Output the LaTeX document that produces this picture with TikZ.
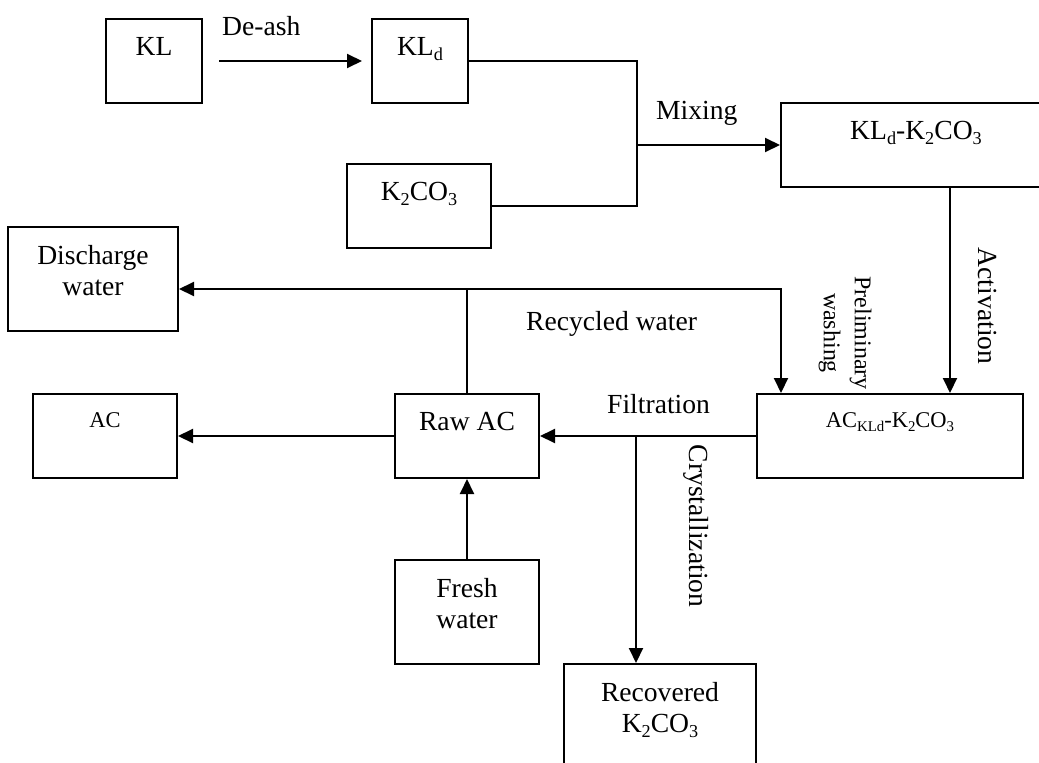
\documentclass[tikz,border=0pt]{standalone}
\usepackage{fontspec}
\setmainfont{Liberation Serif}
\usetikzlibrary{arrows.meta,positioning}

\newcommand{\sbs}[1]{\raisebox{-0.18em}{\scalebox{0.66}{#1}}}

\begin{document}
\begin{tikzpicture}[x=1pt, y=-1pt,
    box/.style={draw, line width=2pt, inner sep=0pt},
    lbl/.style={inner sep=0pt, align=center, font=\fontsize{27.6}{31}\selectfont},
    smalllbl/.style={lbl, font=\fontsize{22.5}{25}\selectfont},
    flow/.style={line width=2pt, -{Triangle[length=15pt,width=14pt]}},
    pipe/.style={line width=2pt}]

    % Page frame
    \useasboundingbox (0,0) rectangle (1039,763);
    \clip (0,0) rectangle (1039,763);

    % Boxes
    \node[box, minimum width=96pt, minimum height=84pt] (kl) at (154,61) {};
    \node[box, minimum width=96pt, minimum height=84pt] (kld) at (420,61) {};
    \node[box, minimum width=144pt, minimum height=84pt] (kco) at (419,206) {};
    \node[box, minimum width=270pt, minimum height=84pt] (mix) at (916,145) {};
    \node[box, minimum width=170pt, minimum height=104pt] (dis) at (93,279) {};
    \node[box, minimum width=144pt, minimum height=84pt] (ac) at (105,436) {};
    \node[box, minimum width=144pt, minimum height=84pt] (raw) at (467,436) {};
    \node[box, minimum width=266pt, minimum height=84pt] (act) at (890,436) {};
    \node[box, minimum width=144pt, minimum height=104pt] (fresh) at (467,612) {};
    \node[box, minimum width=192pt, minimum height=136pt] (rec) at (660,732) {};

    % Box texts
    \node[lbl, below=19pt of kl.north] (kl-t) {KL};
    \node[lbl, below=19pt of kld.north] (kld-t) {KL\sbs{d}};
    \node[lbl, below=19pt of kco.north] (kco-t) {K\sbs{2}CO\sbs{3}};
    \node[lbl, below=19pt of mix.north] (mix-t) {KL\sbs{d}-K\sbs{2}CO\sbs{3}};
    \node[lbl, below=19pt of dis.north] (dis-t) {Discharge\\water};
    \node[smalllbl, below=19pt of ac.north] (ac-t) {AC};
    \node[lbl, below=19pt of raw.north] (raw-t) {Raw AC};
    \node[smalllbl, below=19pt of act.north] (act-t) {AC\sbs{KLd}-K\sbs{2}CO\sbs{3}};
    \node[lbl, below=19pt of fresh.north] (fresh-t) {Fresh\\water};
    \node[lbl, below=19pt of rec.north] (rec-t) {Recovered\\K\sbs{2}CO\sbs{3}};

    % Junctions
    \coordinate (mixjn) at (637,145);
    \coordinate (washjn) at (467,289);
    \coordinate (washx) at (781,0);
    \coordinate (actx) at (950,0);
    \coordinate (crysx) at (636,0);

    % Connectors
    \draw[flow, shorten <=16pt, shorten >=9pt] (kl.east) -- (kld.west);
    \draw[pipe] (kld.east) -| (mixjn) |- (kco.east);
    \draw[flow] (mixjn) -- (mix.west);
    \draw[flow] (actx |- mix.south) -- (actx |- act.north);
    \draw[pipe, line width=1.4pt] (raw.north) -- (washjn);
    \draw[flow] (washjn) -- (washjn -| dis.east);
    \draw[flow] (washjn) -| (washx |- act.north);
    \draw[flow] (act.west) -- (raw.east);
    \draw[flow] (crysx |- act.west) -- (crysx |- rec.north);
    \draw[flow] (raw.west) -- (ac.east);
    \draw[flow] (fresh.north) -- (raw.south);

    % Step labels
    \node[lbl, anchor=base west] (deash) at (222,35) {De-ash};
    \node[lbl, anchor=base west] (mixing) at (656,119) {Mixing};
    \node[lbl, rotate=-90] (activ) at (987,306) {Activation};
    \node[lbl, rotate=-90, font=\fontsize{24}{31}\selectfont] (prewash) at (845,333) {Preliminary\\washing};
    \node[lbl, anchor=base west] (recyc) at (526,330) {Recycled water};
    \node[lbl, anchor=base west] (filt) at (607,413) {Filtration};
    \node[lbl, rotate=-90] (cryst) at (696,526) {Crystallization};

\end{tikzpicture}
\end{document}
